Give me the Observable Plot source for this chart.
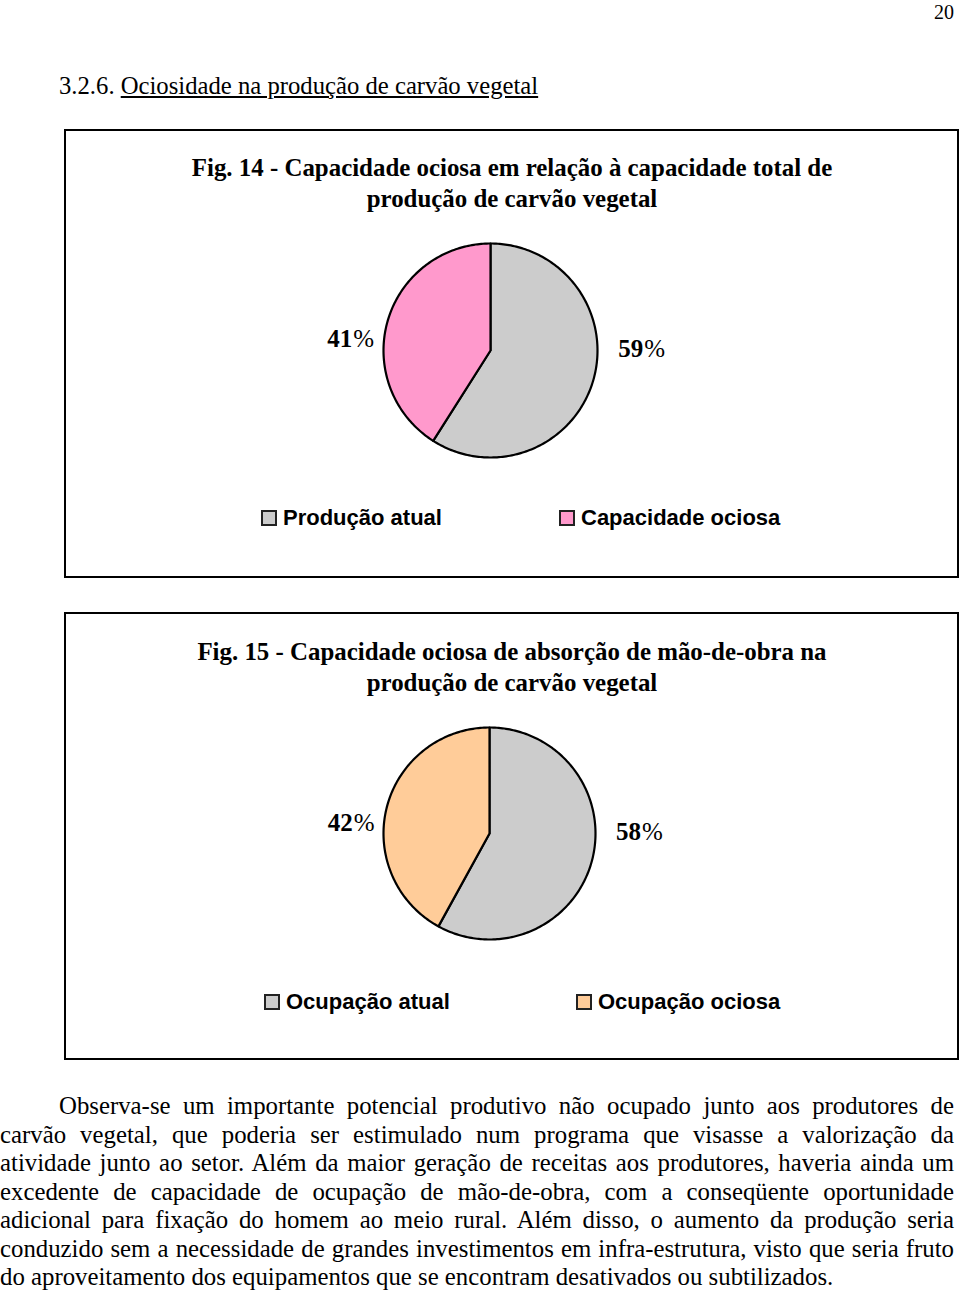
<!DOCTYPE html>
<html><head><meta charset="utf-8">
<script src="https://cdn.jsdelivr.net/npm/d3@7"></script>
<script src="https://cdn.jsdelivr.net/npm/@observablehq/plot@0.6"></script>
<style>
html,body{margin:0;padding:0;background:#fff;}
#page{position:relative;width:960px;height:1293px;overflow:hidden;font-family:"Liberation Serif","Times New Roman",serif;color:#000;}
.box{position:absolute;left:64px;width:895px;border:2px solid #000;box-sizing:border-box;}
.title{position:absolute;left:64px;width:896px;text-align:center;font-weight:bold;font-size:24.9px;line-height:31px;}
.leg{position:absolute;display:flex;align-items:center;font-family:"Liberation Sans",Arial,sans-serif;font-weight:bold;font-size:22px;line-height:26px;white-space:nowrap;}
.sw{width:16px;height:16px;border:2px solid #222;box-sizing:border-box;margin-right:6px;}
.pie{position:absolute;}
#para{position:absolute;left:0;top:1092px;width:954px;font-size:24.8px;}
#para div{line-height:28.5px;height:28.5px;text-align:justify;text-align-last:justify;white-space:nowrap;}
#para div.last{text-align-last:left;}
</style></head>
<body>
<div id="page">
  <div style="position:absolute;right:6px;top:0;font-size:20px;line-height:24px;">20</div>
  <div style="position:absolute;left:59px;top:71.5px;font-size:24.7px;line-height:28px;">3.2.6. <span style="text-decoration:underline;">Ociosidade na produção de carvão vegetal</span></div>

  <div class="box" style="top:129px;height:449px;"></div>
  <div class="title" id="t14" style="top:152px;"></div>
  <div class="pie" id="p14" style="left:280px;top:230px;"></div>
  <div id="l14"></div>

  <div class="box" style="top:612px;height:448px;"></div>
  <div class="title" id="t15" style="top:636px;"></div>
  <div class="pie" id="p15" style="left:279px;top:713px;"></div>
  <div id="l15"></div>

  <div id="para"></div>
</div>
<script>
// ---- data ----
const fig14TitleLines = ["Fig. 14 - Capacidade ociosa em relação à capacidade total de", "produção de carvão vegetal"];
const fig14Categories = ["Produção atual", "Capacidade ociosa"];
const fig14Values = [59, 41];
const fig14Colors = ["#CCCCCC", "#FF99CC"];

const fig15TitleLines = ["Fig. 15 - Capacidade ociosa de absorção de mão-de-obra na", "produção de carvão vegetal"];
const fig15Categories = ["Ocupação atual", "Ocupação ociosa"];
const fig15Values = [58, 42];
const fig15Colors = ["#CCCCCC", "#FFCC99"];

const paragraphLines = [
  "Observa-se um importante potencial produtivo não ocupado junto aos produtores de",
  "carvão vegetal, que poderia ser estimulado num programa que visasse a valorização da",
  "atividade junto ao setor. Além da maior geração de receitas aos produtores, haveria ainda um",
  "excedente de capacidade de ocupação de mão-de-obra, com a conseqüente oportunidade",
  "adicional para fixação do homem ao meio rural. Além disso, o aumento da produção seria",
  "conduzido sem a necessidade de grandes investimentos em infra-estrutura, visto que seria fruto",
  "do aproveitamento dos equipamentos que se encontram desativados ou subtilizados."
];

// ---- drawing ----
function pieChart(cats, vals, colors, r) {
  const arcs = d3.pie().sort(null).value(d => d)(vals);
  const pts = [];
  arcs.forEach((a, i) => {
    const n = Math.max(2, Math.ceil((a.endAngle - a.startAngle) / (Math.PI / 180)));
    pts.push({cat: cats[i], x: 0, y: 0});
    for (let k = 0; k <= n; k++) {
      const t = a.startAngle + (a.endAngle - a.startAngle) * k / n;
      pts.push({cat: cats[i], x: Math.sin(t), y: Math.cos(t)});
    }
    pts.push({cat: cats[i], x: 0, y: 0});
  });
  const labels = arcs.map((a, i) => {
    const m = (a.startAngle + a.endAngle) / 2;
    return {num: String(vals[i]), x: 1.36 * Math.sign(Math.sin(m)) + 0.05, y: 0.06 + 0.17 * Math.cos(m)};
  });
  const W = 420, H = 240;
  return Plot.plot({
    width: W, height: H, margin: 0,
    style: {fontFamily: "'Liberation Serif','Times New Roman',serif", background: "transparent", overflow: "visible"},
    x: {domain: [-W / 2 / r, W / 2 / r], axis: null},
    y: {domain: [-H / 2 / r, H / 2 / r], axis: null},
    color: {domain: cats, range: colors},
    marks: [
      Plot.line(pts, {x: "x", y: "y", z: "cat", fill: "cat", stroke: "#000", strokeWidth: 2.2, strokeLinejoin: "round"}),
      Plot.text(labels, {x: "x", y: "y", text: "num", textAnchor: "end", dx: 2, fontWeight: "bold", fontSize: 25, fill: "#000"}),
      Plot.text(labels, {x: "x", y: "y", text: () => "%", textAnchor: "start", dx: 3, fontSize: 25, fill: "#000"})
    ]
  });
}

function legend(id, cats, colors, lefts, cy) {
  const host = document.getElementById(id);
  cats.forEach((c, i) => {
    const d = document.createElement("div");
    d.className = "leg";
    d.style.left = lefts[i] + "px";
    d.style.top = (cy - 13) + "px";
    d.innerHTML = `<span class="sw" style="background:${colors[i]}"></span><span>${c}</span>`;
    host.appendChild(d);
  });
}

document.getElementById("t14").innerHTML = fig14TitleLines.join("<br>");
document.getElementById("t15").innerHTML = fig15TitleLines.join("<br>");
document.getElementById("p14").appendChild(pieChart(fig14Categories, fig14Values, fig14Colors, 107));
document.getElementById("p15").appendChild(pieChart(fig15Categories, fig15Values, fig15Colors, 106));
legend("l14", fig14Categories, fig14Colors, [261, 559], 518);
legend("l15", fig15Categories, fig15Colors, [264, 576], 1002);

const para = document.getElementById("para");
const ctx = document.createElement("canvas").getContext("2d");
ctx.font = "24.8px 'Liberation Serif'";
paragraphLines.forEach((t, i) => {
  const d = document.createElement("div");
  d.textContent = t;
  const avail = 954 - (i === 0 ? 59 : 0);
  if (i === 0) d.style.paddingLeft = "59px";
  if (i === paragraphLines.length - 1) d.className = "last";
  const w = ctx.measureText(t).width;
  if (w > avail - 4) d.style.letterSpacing = ((avail - 4 - w) / t.length).toFixed(3) + "px";
  para.appendChild(d);
});
</script>
</body></html>
